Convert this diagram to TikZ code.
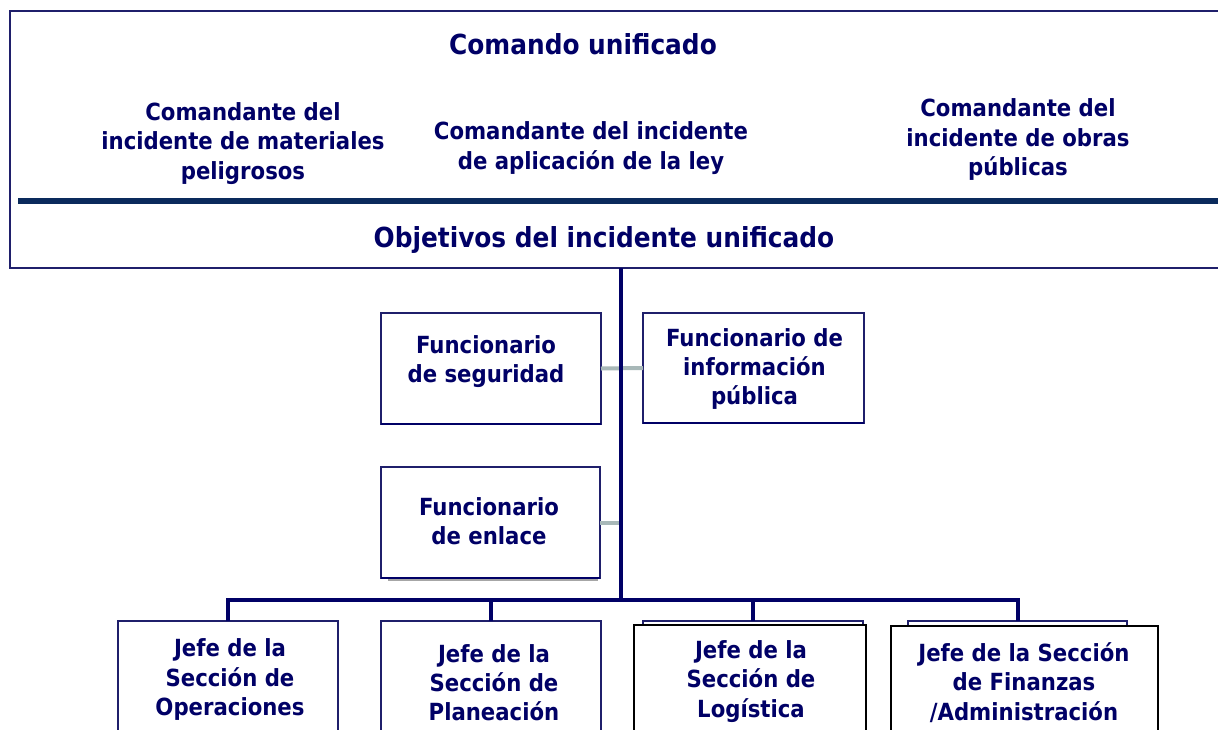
\documentclass[tikz,border=0pt]{standalone}
\usepackage{fontspec}
\setmainfont{DejaVu Sans Condensed}
\definecolor{txtc}{HTML}{000066}
\definecolor{navy}{HTML}{000066}
\definecolor{boxc}{HTML}{1F1F6B}
\definecolor{sepc}{HTML}{0A2A5C}
\definecolor{linkc}{HTML}{A8B8B8}
\tikzset{
  txt/.style={text=txtc, font=\bfseries\fontsize{23.6}{29.3}\selectfont, align=center, inner sep=0pt, yshift=-2.5pt},
  ttl/.style={text=txtc, font=\bfseries\fontsize{27.6}{33}\selectfont, align=center, inner sep=0pt, yshift=-2pt},
  frame/.style={draw=boxc, line width=1.8pt, fill=white, rectangle, inner sep=0pt, outer sep=0pt, anchor=north west},
  blackframe/.style={draw=black, line width=1.8pt, fill=white, rectangle, inner sep=0pt, outer sep=0pt, anchor=north west},
  trunk/.style={draw=navy, line width=4pt},
  link/.style={draw=linkc, line width=4pt},
  sep/.style={draw=sepc, line width=6pt},
  shadowline/.style={draw=navy, line width=2.8pt}
}
\begin{document}
\begin{tikzpicture}[x=1pt,y=-1pt]
\useasboundingbox (0,0) rectangle (1218,729);
\clip (0,0) rectangle (1218,729);
\fill[white] (0,0) rectangle (1218,729);

% top box
\node[frame, minimum width=1240pt, minimum height=257pt] (top) at (10,11) {};
\coordinate (sepl) at (18,201);
\coordinate (sepr) at (1240,201);
\draw[sep] (sepl) -- (sepr);
\node[ttl] (cu) at (583,42) {Comando unificado};
\node[txt] (c1) at (243,141) {Comandante del\\incidente de materiales\\peligrosos};
\node[txt] (c2) at (591,145.5) {Comandante del incidente\\de aplicación de la ley};
\node[txt] (c3) at (1018,137) {Comandante del\\incidente de obras\\públicas};
\node[ttl] (obj) at (604,238) {Objetivos del incidente unificado};

% staff boxes
\node[frame, minimum width=220pt, minimum height=111pt] (seg) at (381,313) {};
\node[frame, minimum width=221pt, minimum height=110pt] (info) at (643,313) {};
\node[frame, minimum width=219pt, minimum height=111pt] (enl) at (381,467) {};
\draw[shadowline] (seg.south west) -- (seg.south east);
\draw[shadowline] (info.south west) -- (info.south east);
\draw[shadowline] (enl.south west) -- (enl.south east);
\coordinate (enlsh1) at (388,580);
\coordinate (enlsh2) at (598,580);
\draw[draw=gray!70, line width=1.5pt] (enlsh1) -- (enlsh2);

\coordinate (j) at (621,600);
% gray links
\draw[link] (seg.east) -- (info.west);
\draw[link] (enl.east) -- (enl.east -| j);

% section boxes
\node[frame, minimum width=220pt, minimum height=160pt] (ops) at (118,621) {};
\node[frame, minimum width=220pt, minimum height=160pt] (plan) at (381,621) {};
\node[frame, minimum width=220pt, minimum height=20pt] (logb) at (643,621) {};
\node[blackframe, minimum width=232pt, minimum height=160pt] (log) at (634,625) {};
\node[frame, minimum width=219pt, minimum height=20pt] (finb) at (908,621) {};
\node[blackframe, minimum width=267pt, minimum height=160pt] (fin) at (891,626) {};

% trunk and bus
\draw[trunk] (top.south -| j) -- (j);
\draw[trunk] (ops.north) -- (ops.north |- j) -- (finb.north |- j) -- (finb.north);
\draw[trunk] (plan.north |- j) -- (plan.north);
\draw[trunk] (logb.north |- j) -- (logb.north);

% texts
\node[txt] (tseg) at (486,359) {Funcionario\\de seguridad};
\node[txt] (tinfo) at (754.5,366.5) {Funcionario de\\información\\pública};
\node[txt] (tenl) at (489,518.5) {Funcionario\\de enlace};
\node[txt] (tops) at (230,677) {Jefe de la\\Sección de\\Operaciones};
\node[txt] (tplan) at (494,680) {Jefe de la\\Sección de\\Planeación};
\node[txt] (tlog) at (751,679) {Jefe de la\\Sección de\\Logística};
\node[txt] (tfin) at (1024,680) {Jefe de la Sección\\de Finanzas\\/Administración};
\end{tikzpicture}
\end{document}
